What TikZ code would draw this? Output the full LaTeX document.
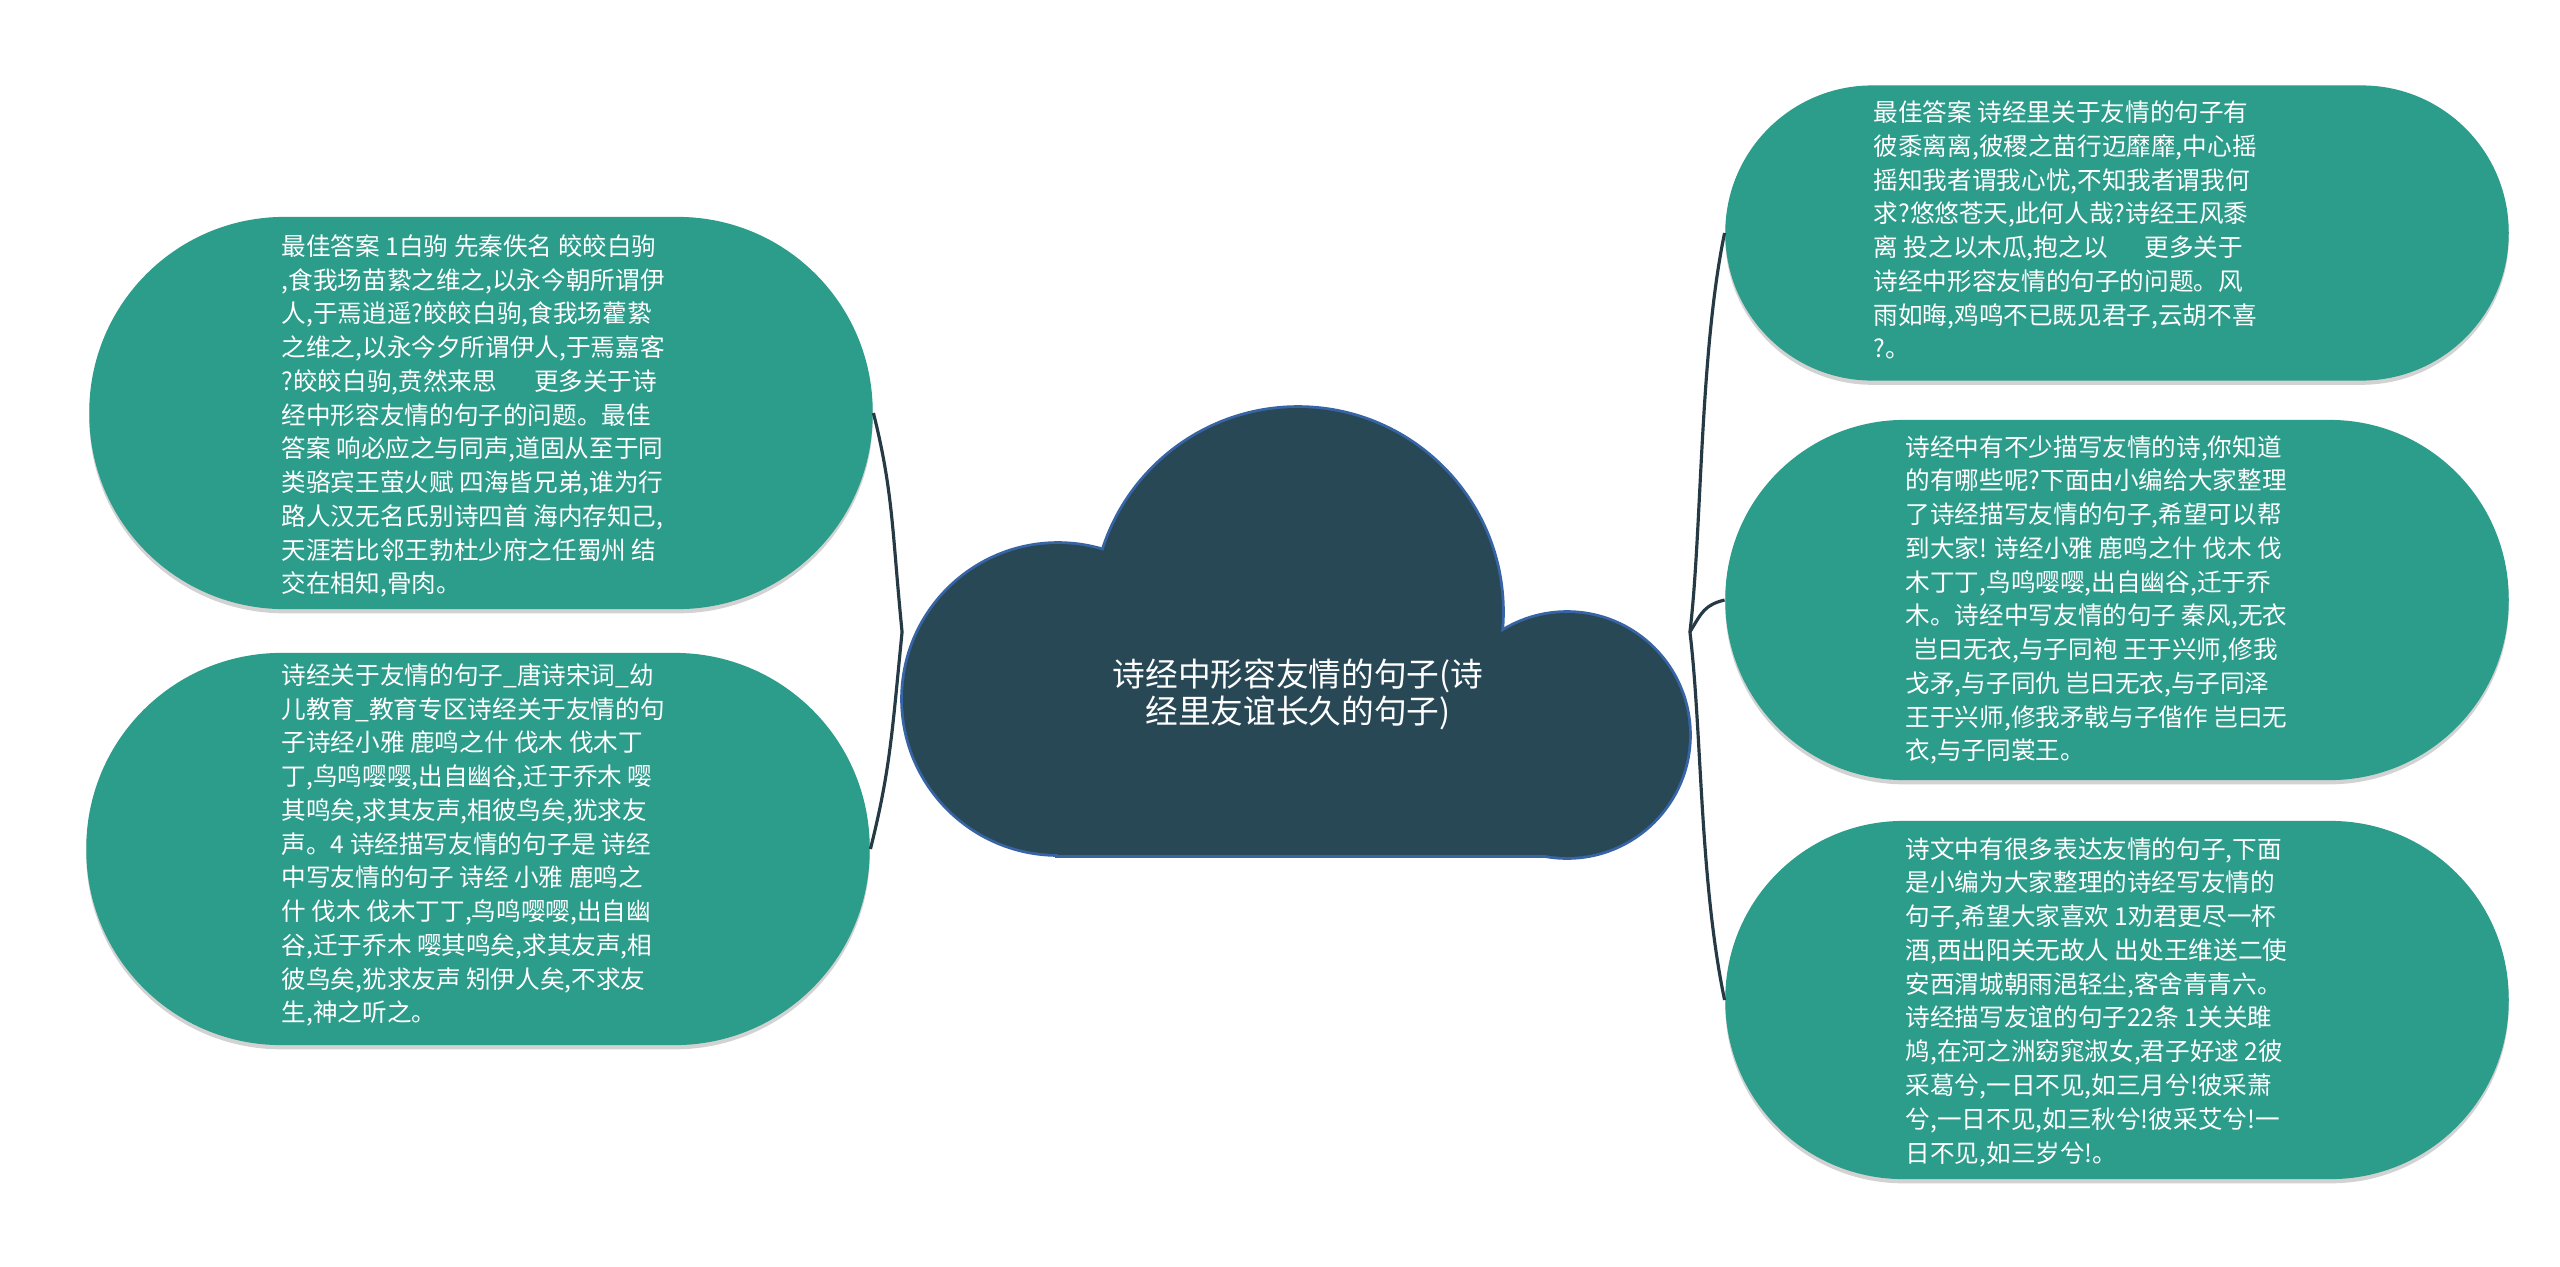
\documentclass[tikz,border=0pt]{standalone}
\usepackage{fontspec}
\newfontfamily\cjk{Noto Sans CJK SC}
\usetikzlibrary{calc, shadows}

\definecolor{leafteal}{RGB}{44,156,139}
\definecolor{rootblue}{RGB}{40,72,86}
\definecolor{rootedge}{RGB}{55,100,165}
\definecolor{linkdark}{RGB}{37,58,68}

\tikzset{
  leaf/.style={fill=leafteal, minimum width=7.83cm,
    drop shadow={shadow xshift=0pt, shadow yshift=-1.2pt, opacity=0.35}},
  leaftext/.style={anchor=west, inner sep=0pt, align=left, text=white,
    font=\cjk\fontsize{7}{9.6}\selectfont},
  roottext/.style={inner sep=0pt, align=center, text=white,
    font=\cjk\fontsize{9.3}{10.5}\selectfont},
  link/.style={draw=linkdark, line width=0.9pt},
}

\begin{document}
\begin{tikzpicture}[x=0.01cm, y=-0.01cm]
  \useasboundingbox[fill=white] (0,0) rectangle (2560,1266);

  % Cloud (root): outline first, then fill over the inner lines
  \draw[rootedge, line width=1.6pt] (1058,699) circle (155);
  \draw[rootedge, line width=1.6pt] (1298,612) circle (204);
  \draw[rootedge, line width=1.6pt] (1567,735) circle (122);
  \draw[rootedge, line width=1.6pt] (1058,699) rectangle (1567,855);
  \fill[rootblue] (1058,699) circle (155);
  \fill[rootblue] (1298,612) circle (204);
  \fill[rootblue] (1567,735) circle (122);
  \fill[rootblue] (1058,699) rectangle (1567,855);
  \node[minimum width=7.86cm, minimum height=4.48cm] (root) at (1296,632) {};
  \node[roottext] (rootlabel) at (1298,694) {诗经中形容友情的句子(诗\\经里友谊长久的句子)};

  % Left leaves
  \node[leaf, minimum height=3.92cm, rounded corners=1.95cm] (l1) at (481,413) {};
  \node[leaf, minimum height=3.92cm, rounded corners=1.95cm] (l2) at (478,849) {};

  % Right leaves
  \node[leaf, minimum height=2.95cm, rounded corners=1.47cm] (r1) at (2117,233) {};
  \node[leaf, minimum height=3.60cm, rounded corners=1.79cm] (r2) at (2117,600) {};
  \node[leaf, minimum height=3.58cm, rounded corners=1.78cm] (r3) at (2117,1000) {};

  % Texts
  \node[leaftext] (l1text) at (281,416) {最佳答案 1白驹 先秦佚名 皎皎白驹\\
    ,食我场苗絷之维之,以永今朝所谓伊\\
    人,于焉逍遥?皎皎白驹,食我场藿絷\\
    之维之,以永今夕所谓伊人,于焉嘉客\\
    ?皎皎白驹,贲然来思\hspace{1.5em}更多关于诗\\
    经中形容友情的句子的问题。最佳\\
    答案 响必应之与同声,道固从至于同\\
    类骆宾王萤火赋 四海皆兄弟,谁为行\\
    路人汉无名氏别诗四首 海内存知己,\\
    天涯若比邻王勃杜少府之任蜀州 结\\
    交在相知,骨肉。};
  \node[leaftext] (l2text) at (281,845) {诗经关于友情的句子\_唐诗宋词\_幼\\
    儿教育\_教育专区诗经关于友情的句\\
    子诗经小雅 鹿鸣之什 伐木 伐木丁\\
    丁,鸟鸣嘤嘤,出自幽谷,迁于乔木 嘤\\
    其鸣矣,求其友声,相彼鸟矣,犹求友\\
    声。4 诗经描写友情的句子是 诗经\\
    中写友情的句子 诗经 小雅 鹿鸣之\\
    什 伐木 伐木丁丁,鸟鸣嘤嘤,出自幽\\
    谷,迁于乔木 嘤其鸣矣,求其友声,相\\
    彼鸟矣,犹求友声 矧伊人矣,不求友\\
    生,神之听之。};
  \node[leaftext] (r1text) at (1873,230) {最佳答案 诗经里关于友情的句子有\\
    彼黍离离,彼稷之苗行迈靡靡,中心摇\\
    摇知我者谓我心忧,不知我者谓我何\\
    求?悠悠苍天,此何人哉?诗经王风黍\\
    离 投之以木瓜,抱之以\hspace{1.5em}更多关于\\
    诗经中形容友情的句子的问题。风\\
    雨如晦,鸡鸣不已既见君子,云胡不喜\\
    ?。};
  \node[leaftext] (r2text) at (1905,600) {诗经中有不少描写友情的诗,你知道\\
    的有哪些呢?下面由小编给大家整理\\
    了诗经描写友情的句子,希望可以帮\\
    到大家! 诗经小雅 鹿鸣之什 伐木 伐\\
    木丁丁,鸟鸣嘤嘤,出自幽谷,迁于乔\\
    木。诗经中写友情的句子 秦风,无衣\\
    \hspace*{0.33em}岂曰无衣,与子同袍 王于兴师,修我\\
    戈矛,与子同仇 岂曰无衣,与子同泽\\
    王于兴师,修我矛戟与子偕作 岂曰无\\
    衣,与子同裳王。};
  \node[leaftext] (r3text) at (1905,1002) {诗文中有很多表达友情的句子,下面\\
    是小编为大家整理的诗经写友情的\\
    句子,希望大家喜欢 1劝君更尽一杯\\
    酒,西出阳关无故人 出处王维送二使\\
    安西渭城朝雨浥轻尘,客舍青青六。\\
    诗经描写友谊的句子22条 1关关雎\\
    鸠,在河之洲窈窕淑女,君子好逑 2彼\\
    采葛兮,一日不见,如三月兮!彼采萧\\
    兮,一日不见,如三秋兮!彼采艾兮!一\\
    日不见,如三岁兮!。};

  % Connectors
  \draw[link] (root.west) .. controls ($(root.west)+(-10,-100)$) and ($(l1.east)+(20,80)$) .. (l1.east);
  \draw[link] (root.west) .. controls ($(root.west)+(-10,100)$) and ($(l2.east)+(20,-80)$) .. (l2.east);
  \draw[link] (root.east) .. controls ($(root.east)+(12,-100)$) and ($(r1.west)+(-25,120)$) .. (r1.west);
  \draw[link] (root.east) .. controls ($(root.east)+(12,-20)$) and ($(r2.west)+(-20,5)$) .. (r2.west);
  \draw[link] (root.east) .. controls ($(root.east)+(12,100)$) and ($(r3.west)+(-25,-120)$) .. (r3.west);
\end{tikzpicture}
\end{document}
